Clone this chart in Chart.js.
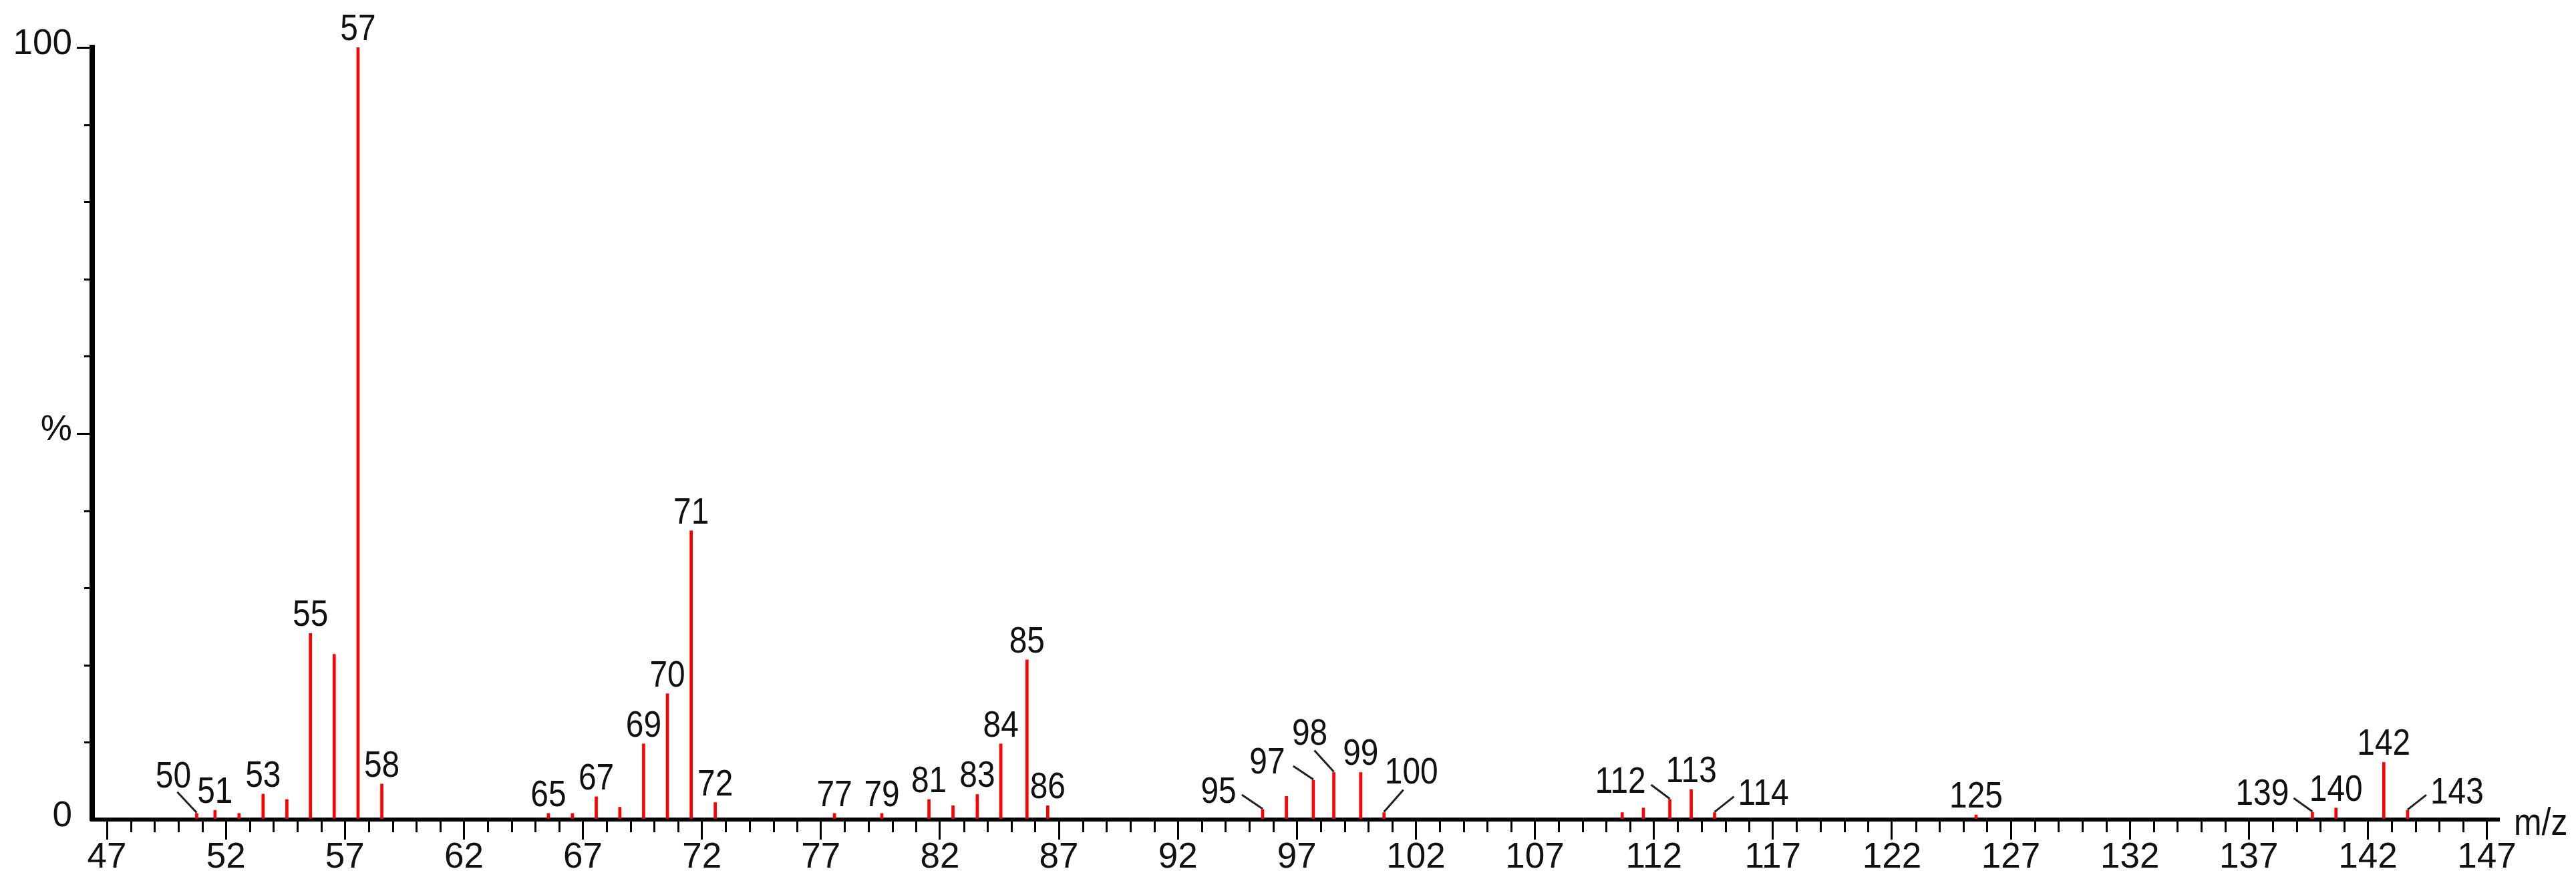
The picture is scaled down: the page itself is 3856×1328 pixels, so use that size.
<!DOCTYPE html>
<html>
<head>
<meta charset="utf-8">
<script src="https://cdn.jsdelivr.net/npm/chart.js@4.4.1/dist/chart.umd.min.js"></script>
<style>
html, body { margin: 0; padding: 0; background: #fff; }
#wrap { width: 3856px; height: 1328px; }
</style>
</head>
<body>
<div id="wrap"><canvas id="spec" width="3856" height="1328"></canvas></div>
<script>
// nominal masses, where each stick sits on the axis, and relative intensity (%)
const mz = [50, 51, 52, 53, 54, 55, 56, 57, 58,
    65, 66, 67, 68, 69, 70, 71, 72, 77, 79,
    81, 82, 83, 84, 85, 86, 95, 96, 97, 98, 99, 100,
    110, 111, 112, 113, 114, 125, 139, 140, 142, 143];
const mzPos = [50.77, 51.54, 52.55, 53.56, 54.56, 55.55, 56.55, 57.55, 58.55,
    65.55, 66.56, 67.56, 68.55, 69.55, 70.55, 71.55, 72.56, 77.57, 79.56,
    81.54, 82.55, 83.57, 84.56, 85.66, 86.53, 95.56, 96.56, 97.69, 98.55, 99.68, 100.66,
    110.67, 111.56, 112.67, 113.57, 114.55, 125.54, 139.67, 140.66, 142.67, 143.67];
const intensity = [0.8, 1.2, 0.8, 3.3, 2.6, 24.1, 21.4, 100, 4.6,
    0.8, 0.8, 2.95, 1.6, 9.8, 16.3, 37.4, 2.2, 0.8, 0.8,
    2.6, 1.8, 3.25, 9.8, 20.7, 1.8, 1.3, 3.0, 5.1, 6.1, 6.1, 0.9,
    0.9, 1.5, 2.6, 3.9, 0.9, 0.6, 0.95, 1.5, 7.4, 1.2];
const labeled = [50, 51, 53, 55, 57, 58, 65, 67, 69, 70, 71, 72, 77, 79,
    81, 83, 84, 85, 86, 95, 97, 98, 99, 100, 112, 113, 114, 125, 139, 140, 142, 143];

const xTicks = [47, 52, 57, 62, 67, 72, 77, 82, 87, 92, 97, 102, 107, 112, 117,
    122, 127, 132, 137, 142, 147];
const yTickValues = [0, 50, 100];
const yTickText = ['0', '%', '100'];

// labels that are pushed aside and joined to their stick with a short line
const leaders = {
    50: { dx: -35, dy: -39, lx: -29, ly: -32 },
    95: { dx: -66, dy: -10, lx: -31, ly: -22 },
    97: { dx: -69, dy: -10, lx: -30, ly: -21 },
    98: { dx: -36, dy: -41, lx: -29, ly: -33 },
    100: { dx: 41, dy: -44, lx: 29, ly: -34 },
    112: { dx: -74, dy: -10, lx: -28, ly: -22 },
    114: { dx: 73, dy: -12, lx: 29, ly: -24 },
    139: { dx: -75, dy: -11, lx: -28, ly: -21 },
    143: { dx: 74, dy: -10, lx: 28, ly: -23 }
};

const FONT = '"Liberation Sans", Arial, sans-serif';

// narrow text, like the instrument software's font
function drawNarrow(ctx, text, x, y, squeeze) {
    ctx.save();
    ctx.translate(x, y);
    ctx.scale(squeeze, 1);
    ctx.fillText(text, 0, 0);
    ctx.restore();
}

const peakLabels = {
    id: 'peakLabels',
    afterDatasetsDraw(chart) {
        const { ctx, scales: { x, y } } = chart;
        ctx.save();
        ctx.font = '55px ' + FONT;
        ctx.fillStyle = '#111';
        ctx.strokeStyle = '#222';
        ctx.lineWidth = 3;
        ctx.textAlign = 'center';
        ctx.textBaseline = 'alphabetic';
        mz.forEach((m, i) => {
            if (!labeled.includes(m)) return;
            let px = x.getPixelForValue(mzPos[i]);
            let py = y.getPixelForValue(intensity[i]);
            let l = leaders[m] || { dx: 0, dy: -11 };
            if (l.lx !== undefined) {
                ctx.beginPath();
                ctx.moveTo(px + l.lx, py + l.ly);
                ctx.lineTo(px, py - 1);
                ctx.stroke();
            }
            drawNarrow(ctx, String(m), px + l.dx, py + l.dy, 0.87);
        });
        ctx.restore();
    }
};

const minorTicks = {
    id: 'minorTicks',
    afterDraw(chart) {
        const { ctx, scales: { x, y }, chartArea } = chart;
        ctx.save();
        ctx.strokeStyle = '#000';
        ctx.lineWidth = 3;
        ctx.beginPath();
        for (let v = 47; v <= 147; v++) {
            if ((v - 47) % 5 === 0) continue;
            let px = Math.round(x.getPixelForValue(v)) + 0.5;
            ctx.moveTo(px, chartArea.bottom + 3);
            ctx.lineTo(px, chartArea.bottom + 19);
        }
        for (let v = 10; v < 100; v += 10) {
            if (v === 50) continue;
            let py = Math.round(y.getPixelForValue(v)) + 0.5;
            ctx.moveTo(chartArea.left - 12, py);
            ctx.lineTo(chartArea.left - 4, py);
        }
        ctx.stroke();

        ctx.font = '58px ' + FONT;
        ctx.fillStyle = '#111';
        ctx.textAlign = 'left';
        ctx.textBaseline = 'alphabetic';
        drawNarrow(ctx, 'm/z', chartArea.right + 23, chartArea.bottom + 23, 0.86);
        ctx.restore();
    }
};

new Chart(document.getElementById('spec'), {
    type: 'bar',
    data: {
        datasets: [{
            data: mz.map((m, i) => ({ x: mzPos[i], y: intensity[i] })),
            backgroundColor: '#ff0000',
            borderWidth: 0,
            barThickness: 4
        }]
    },
    options: {
        responsive: false,
        devicePixelRatio: 1,
        animation: false,
        events: [],
        layout: { padding: { top: 71, right: 116, bottom: 0, left: 0 } },
        plugins: { legend: { display: false }, tooltip: { enabled: false } },
        scales: {
            x: {
                type: 'linear',
                min: 46.38,
                max: 147.49,
                offset: false,
                z: 1,
                afterBuildTicks: s => { s.ticks = xTicks.map(v => ({ value: v })); },
                afterFit: s => { s.height = 101; },
                ticks: {
                    autoSkip: false,
                    maxRotation: 0,
                    padding: 1,
                    color: '#111',
                    font: { family: FONT, size: 53, lineHeight: 1 },
                    callback: v => String(v)
                },
                grid: {
                    offset: false,
                    drawOnChartArea: false,
                    drawTicks: true,
                    tickLength: 30,
                    tickWidth: 3,
                    tickColor: '#000',
                    lineWidth: 3
                },
                border: { display: true, color: '#000', width: 6 }
            },
            y: {
                min: 0,
                max: 100,
                z: 1,
                afterBuildTicks: s => { s.ticks = yTickValues.map(v => ({ value: v })); },
                afterFit: s => { s.width = 138; },
                ticks: {
                    padding: 7,
                    labelOffset: -5,
                    color: '#111',
                    font: { family: FONT, size: 53, lineHeight: 1 },
                    callback: v => yTickText[yTickValues.indexOf(v)]
                },
                grid: {
                    drawOnChartArea: false,
                    drawTicks: true,
                    tickLength: 23,
                    tickWidth: 3,
                    lineWidth: 3,
                    tickColor: c => (c.tick && c.tick.value === 0) ? 'rgba(0,0,0,0)' : '#000'
                },
                border: { display: true, color: '#000', width: 8 }
            }
        }
    },
    plugins: [peakLabels, minorTicks]
});
</script>
</body>
</html>
